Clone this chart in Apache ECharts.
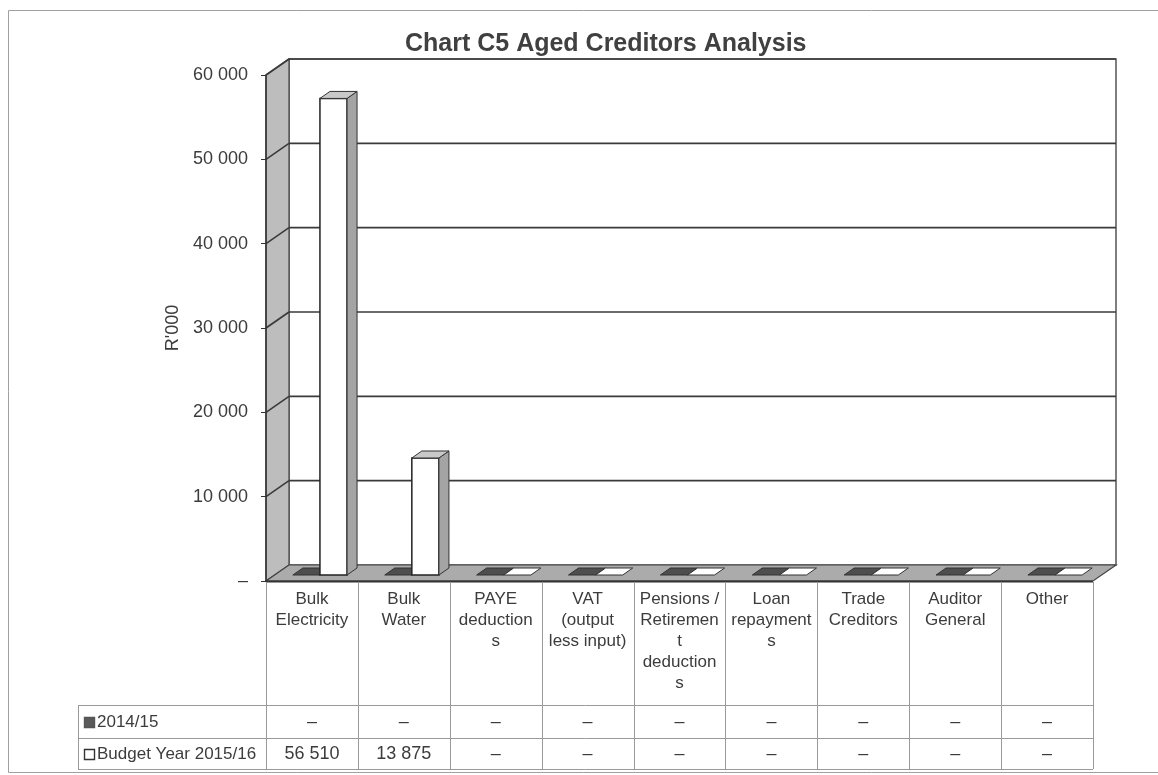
<!DOCTYPE html>
<html>
<head>
<meta charset="utf-8">
<script src="https://cdn.jsdelivr.net/npm/echarts@6/dist/echarts.min.js"></script>
<style>
  html, body { margin: 0; padding: 0; background: #fff; }
  #chart { width: 1158px; height: 775px; }
</style>
</head>
<body>
<div id="chart"></div>
<script>
// Category labels as they wrap inside the data-table header cells
const categories = [
  'Bulk\nElectricity',
  'Bulk\nWater',
  'PAYE\ndeduction\ns',
  'VAT\n(output\nless input)',
  'Pensions /\nRetiremen\nt\ndeduction\ns',
  'Loan\nrepayment\ns',
  'Trade\nCreditors',
  'Auditor\nGeneral',
  'Other'
];
const seriesNames = ['2014/15', 'Budget Year 2015/16'];
const prevYear = [0, 0, 0, 0, 0, 0, 0, 0, 0];
const budgetYear = [56510, 13875, 0, 0, 0, 0, 0, 0, 0];
const yTicks = [0, 10000, 20000, 30000, 40000, 50000, 60000];

const FONT = "'Liberation Sans Narrow','Arial Narrow','Liberation Sans',Arial,sans-serif";
const TEXT = '#3c3c3c';
const LINE = '#3a3a3a';
// oblique depth of the walls / floor
const DX = 23, DY = -16;
// each column sits a little behind the front plane and has its own depth
const BOFF_X = 8, BOFF_Y = -6;
const BDX = 10, BDY = -7;
// data-table row geometry, measured down from the floor's front edge
const ROW_HEAD = 124, ROW_1 = 157, ROW_2 = 188;
const TABLE_LEFT = 78;
const SERIES_STYLE = [
  { front: '#575757', side: '#3c3c3c', top: '#6a6a6a', flat: '#4e4e4e', key: '#5a5a5a' },
  { front: '#ffffff', side: '#a4a4a4', top: '#c9c9c9', flat: '#ffffff', key: '#ffffff' }
];

function fmt(v) {
  return v === 0 ? '\u2013' : String(v).replace(/\B(?=(\d{3})+(?!\d))/g, ' ');
}

function poly(points, style) {
  return { type: 'polygon', shape: { points: points }, style: style };
}
function line(x1, y1, x2, y2, style) {
  return { type: 'line', shape: { x1: x1, y1: y1, x2: x2, y2: y2 }, style: style };
}

// walls, floor, the data-table grid and its series keys
function renderFrame(params, api) {
  const cs = params.coordSys;
  const x0 = cs.x, x1 = cs.x + cs.width;
  const yTop = cs.y, yBot = cs.y + cs.height;
  const bw = cs.width / categories.length;
  const kids = [];
  kids.push(poly([[x0 + DX, yTop + DY], [x1 + DX, yTop + DY], [x1 + DX, yBot + DY], [x0 + DX, yBot + DY]],
    { fill: '#fff', stroke: '#555', lineWidth: 1.5 }));
  kids.push(poly([[x0, yBot], [x0, yTop], [x0 + DX, yTop + DY], [x0 + DX, yBot + DY]],
    { fill: '#bdbdbd', stroke: '#444', lineWidth: 1.2 }));
  kids.push(poly([[x0, yBot], [x1, yBot], [x1 + DX, yBot + DY], [x0 + DX, yBot + DY]],
    { fill: '#ababab', stroke: '#444', lineWidth: 1.2 }));
  kids.push(line(x0, yBot + 0.5, x1, yBot + 0.5, { stroke: '#333', lineWidth: 2 }));

  const grid = { stroke: '#9a9a9a', lineWidth: 1 };
  for (let k = 0; k <= categories.length; k++) {
    const x = Math.round(x0 + k * bw) + 0.5;
    kids.push(line(x, yBot + 1, x, yBot + ROW_2, grid));
  }
  [ROW_HEAD, ROW_1, ROW_2].forEach(function (r) {
    kids.push(line(TABLE_LEFT, yBot + r + 0.5, x1, yBot + r + 0.5, grid));
  });
  kids.push(line(TABLE_LEFT + 0.5, yBot + ROW_HEAD, TABLE_LEFT + 0.5, yBot + ROW_2, grid));

  // row headers: key square + series name
  const rows = [(ROW_HEAD + ROW_1) / 2, (ROW_1 + ROW_2) / 2];
  seriesNames.forEach(function (name, s) {
    const cy = yBot + rows[s];
    kids.push({ type: 'rect', shape: { x: 84.5, y: Math.round(cy - 5) + 0.5, width: 10, height: 10 },
      style: { fill: SERIES_STYLE[s].key, stroke: s === 0 ? '#555' : '#333', lineWidth: 1.4 } });
    kids.push({ type: 'text', x: 97, y: cy + 1,
      style: { text: name, fill: TEXT, font: '17px ' + FONT, align: 'left', verticalAlign: 'middle' } });
  });
  return { type: 'group', children: kids };
}

// back-wall gridlines plus their diagonals across the side wall
function renderGridline(params, api) {
  const v = api.value(1);
  if (v === 0) return null;
  const cs = params.coordSys;
  const y = api.coord([0, v])[1];
  const x0 = cs.x, x1 = cs.x + cs.width;
  const st = { stroke: LINE, lineWidth: 1.6 };
  return {
    type: 'group',
    children: [
      line(x0 + DX, y + DY, x1 + DX, y + DY, st),
      line(x0, y, x0 + DX, y + DY, st)
    ]
  };
}

// pseudo-3D column; the slot picks its place inside the category
function makeColumnRenderer(slot) {
  const colors = SERIES_STYLE[slot];
  return function (params, api) {
    const i = api.value(0), v = api.value(1);
    const base = api.coord([i, 0]);
    const top = api.coord([i, v]);
    const w = api.size([1, 0])[0] * 0.295;
    const xa = base[0] + BOFF_X + (slot === 0 ? -w : 0);
    const xb = xa + w;
    const yb = base[1] + BOFF_Y, yt = top[1] + BOFF_Y;
    const kids = [];
    if (v > 0) {
      kids.push({ type: 'rect', shape: { x: xa, y: yt, width: w, height: yb - yt },
        style: { fill: colors.front, stroke: '#222', lineWidth: 1.5 } });
      kids.push(poly([[xb, yb], [xb, yt], [xb + BDX, yt + BDY], [xb + BDX, yb + BDY]],
        { fill: colors.side, stroke: '#333', lineWidth: 1 }));
    }
    kids.push(poly([[xa, yt], [xb, yt], [xb + BDX, yt + BDY], [xa + BDX, yt + BDY]],
      { fill: v > 0 ? colors.top : colors.flat, stroke: '#333', lineWidth: 1 }));
    // matching data-table cell
    const rowY = base[1] + (slot === 0 ? (ROW_HEAD + ROW_1) / 2 : (ROW_1 + ROW_2) / 2);
    kids.push({ type: 'text', x: base[0], y: rowY + 1,
      style: { text: fmt(v), fill: TEXT, font: '18px ' + FONT, align: 'center', verticalAlign: 'middle' } });
    return { type: 'group', children: kids };
  };
}

const chart = echarts.init(document.getElementById('chart'));
chart.setOption({
  backgroundColor: '#fff',
  animation: false,
  title: {
    text: 'Chart C5 Aged Creditors Analysis',
    left: 400, top: 27,
    textStyle: { fontFamily: FONT, fontSize: 25, fontWeight: 'bold', color: '#404040' }
  },
  graphic: [{
    type: 'rect', shape: { x: 8.5, y: 10.5, width: 1170, height: 762 },
    style: { fill: 'none', stroke: '#a0a0a0', lineWidth: 1 }, silent: true
  }],
  grid: { left: 266, right: 65, top: 75, bottom: 194 },
  xAxis: {
    type: 'category',
    data: categories,
    axisLine: { show: false },
    axisTick: { show: false },
    splitLine: { show: false },
    axisLabel: { interval: 0, margin: 8, fontFamily: FONT, fontSize: 17, lineHeight: 21, color: TEXT, align: 'center' }
  },
  yAxis: {
    type: 'value', min: 0, max: 60000, interval: 10000,
    name: "R'000", nameLocation: 'middle', nameGap: 78, nameRotate: 90,
    nameTextStyle: { fontFamily: FONT, fontSize: 18, color: TEXT },
    z: 10,
    axisLine: { show: true, lineStyle: { color: '#333', width: 1.5 } },
    axisTick: { show: true, length: 5, lineStyle: { color: '#333' } },
    splitLine: { show: false },
    axisLabel: { margin: 18, fontFamily: FONT, fontSize: 18, color: TEXT, formatter: fmt }
  },
  series: [
    { type: 'custom', name: 'frame', silent: true, clip: false, z: 1,
      renderItem: renderFrame, data: [[0, 0]] },
    { type: 'custom', name: 'gridlines', silent: true, clip: false, z: 2,
      renderItem: renderGridline, data: yTicks.map(function (t) { return [0, t]; }) },
    { type: 'custom', name: seriesNames[0], clip: false, z: 3,
      renderItem: makeColumnRenderer(0),
      data: prevYear.map(function (v, i) { return [i, v]; }) },
    { type: 'custom', name: seriesNames[1], clip: false, z: 4,
      renderItem: makeColumnRenderer(1),
      data: budgetYear.map(function (v, i) { return [i, v]; }) }
  ]
});
</script>
</body>
</html>
